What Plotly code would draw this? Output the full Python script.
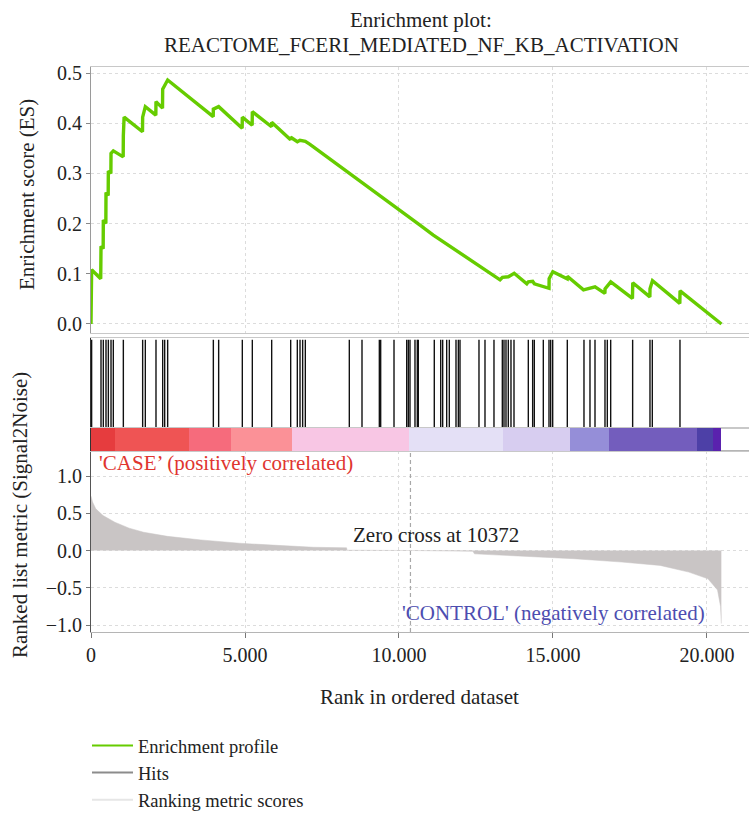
import plotly.graph_objects as go

# ---------------- data ----------------
title_lines = ["Enrichment plot:", "REACTOME_FCERI_MEDIATED_NF_KB_ACTIVATION"]

es_rank = [0, 20, 315, 325, 395, 400, 482, 487, 558, 563, 645, 650, 725, 1045, 1050, 1075,
           1672, 1677, 1764, 2105, 2110, 2322, 2327, 2489, 3968, 3972, 4145, 4908, 4913,
           5233, 5238, 5862, 5866, 6480, 6483, 6700, 6786, 6959, 7110, 8410, 9383, 10032,
           10682, 11114, 11981, 13280, 13360, 13550, 13740, 14150, 14200, 14340, 14395,
           14690, 14870, 14875, 14995, 15460, 15465, 15990, 16205, 16365, 16685, 16690,
           16875, 17580, 17590, 18145, 18150, 18230, 19118, 19125, 20470]
es_value = [0.0, 0.108, 0.090, 0.155, 0.150, 0.207, 0.200, 0.262, 0.256, 0.305, 0.300, 0.340,
            0.345, 0.333, 0.375, 0.412, 0.383, 0.412, 0.433, 0.416, 0.443, 0.430, 0.468, 0.486,
            0.413, 0.428, 0.433, 0.390, 0.412, 0.396, 0.423, 0.393, 0.402, 0.367, 0.372, 0.363,
            0.366, 0.364, 0.358, 0.300, 0.257, 0.228, 0.197, 0.177, 0.141, 0.088, 0.093, 0.094,
            0.101, 0.080, 0.084, 0.085, 0.080, 0.074, 0.071, 0.090, 0.104, 0.090, 0.095, 0.068,
            0.072, 0.074, 0.061, 0.070, 0.084, 0.051, 0.082, 0.054, 0.070, 0.086, 0.041, 0.066,
            0.0]

hit_ranks = [20, 325, 400, 487, 563, 650, 725, 1050, 1677, 1764, 2110, 2327, 2392, 2489,
             3972, 4145, 4913, 5238, 5866, 6483, 6699, 6786, 6872, 6959, 8387, 8799, 9362,
             9405, 9838, 10250, 10303, 10357, 10519, 10595, 10627, 11146, 11354, 11418, 11548,
             11634, 11851, 11927, 11981, 12597, 12792, 13084, 13355, 13409, 13474, 13549,
             13636, 13734, 14199, 14340, 14394, 14686, 14870, 14925, 14990, 15465, 16006,
             16201, 16364, 16688, 16764, 16873, 17586, 18149, 18225, 19123]

metric_rank = [0, 50, 155, 390, 775, 1240, 1710, 2485, 3570, 4815, 5745, 7220, 8300, 8310,
               10372, 12400, 12450, 14130, 15680, 17235, 18478, 19410, 20031, 20342, 20440,
               20466]
metric_value = [0.73, 0.65, 0.56, 0.47, 0.38, 0.30, 0.245, 0.19, 0.142, 0.098, 0.076, 0.044,
                0.036, 0.004, 0.0, -0.01, -0.045, -0.08, -0.11, -0.155, -0.2, -0.29, -0.38,
                -0.53, -0.75, -0.98]

band_start = [0, 780, 3180, 4535, 6515, 10330, 13380, 15550, 16820, 19665, 20185]
band_end = [780, 3180, 4535, 6515, 10330, 13380, 15550, 16820, 19665, 20185, 20460]
band_color = ["#e63c3e", "#ef5454", "#f66b7c", "#fb9197", "#f8c6e4", "#e4e0f6", "#d7cdf0",
              "#958ed8", "#735dbd", "#4d40a7", "#5a22ae"]

zero_cross = 10372
x_tick_vals = [0, 5000, 10000, 15000, 20000]
x_tick_text = ["0", "5.000", "10.000", "15.000", "20.000"]
es_ticks = [0.0, 0.1, 0.2, 0.3, 0.4, 0.5]
metric_ticks = [-1.0, -0.5, 0.0, 0.5, 1.0]

labels = {
    "case": "'CASE’ (positively correlated)",
    "control": "'CONTROL' (negatively correlated)",
    "zero": "Zero cross at %d" % zero_cross,
    "xtitle": "Rank in ordered dataset",
    "es_title": "Enrichment score (ES)",
    "metric_title": "Ranked list metric (Signal2Noise)",
}
legend_names = ["Enrichment profile", "Hits", "Ranking metric scores"]
legend_colors = ["#66cc00", "#8c8c8c", "#e6e6e6"]

# ---------------- figure ----------------
FONT = "Liberation Serif"
W, H = 749, 814
ML, MT, MB = 91, 67, 182
plot_h = H - MT - MB
X_MAX = 21364


def pyf(py):
    return (H - MB - py) / plot_h


def pxf(px):
    return (px - ML) / (W - ML)


fig = go.Figure()

# metric panel (bottom)
fig.add_trace(go.Scatter(x=metric_rank, y=metric_value, mode="lines", fill="tozeroy",
                         fillcolor="#c9c5c5", line=dict(color="#c9c5c5", width=0.5),
                         xaxis="x", yaxis="y", showlegend=False, hoverinfo="skip"))

# colour band
fig.add_trace(go.Bar(x=[e - s for s, e in zip(band_start, band_end)], base=band_start,
                     y=[0] * len(band_start), orientation="h", width=1,
                     marker=dict(color=band_color, line=dict(width=0)),
                     xaxis="x4", yaxis="y4", showlegend=False, hoverinfo="skip"))

# hits
hx, hy = [], []
for h in hit_ranks:
    hx += [h, h, None]
    hy += [0, 1, None]
fig.add_trace(go.Scatter(x=hx, y=hy, mode="lines", line=dict(color="#111111", width=1.4),
                         xaxis="x3", yaxis="y3", showlegend=False, hoverinfo="skip"))

# ES
fig.add_trace(go.Scatter(x=es_rank, y=es_value, mode="lines", name=legend_names[0],
                         line=dict(color="#66cc00", width=3.4), xaxis="x2", yaxis="y2",
                         showlegend=False))

# legend entries
for name, col in zip(legend_names, legend_colors):
    fig.add_trace(go.Scatter(x=[None], y=[None], mode="lines", name=name,
                             line=dict(color=col, width=2), xaxis="x2", yaxis="y2"))

grid = dict(showgrid=True, gridcolor="#dcdcdc", griddash="3px,3px", gridwidth=1)
tickfont = dict(family=FONT, size=20, color="#222")
TS = 21

d_es = [pyf(333), 1.0]
d_hits = [pyf(428), pyf(338)]
d_band = [pyf(451), pyf(428)]
d_met = [0, pyf(451)]

fig.update_layout(
    width=W, height=H, margin=dict(l=ML, r=0, t=MT, b=MB, autoexpand=False),
    paper_bgcolor="white", plot_bgcolor="white",
    font=dict(family=FONT, color="#222"),
    xaxis=dict(range=[0, X_MAX], domain=[0, 1], anchor="y", tickvals=x_tick_vals,
               ticktext=x_tick_text, tickfont=tickfont, ticks="outside", ticklen=5,
               tickcolor="#777", showline=True, linecolor="#b5b5b5", mirror=True,
               zeroline=False, **grid),
    yaxis=dict(range=[-1.094, 1.336], domain=d_met, anchor="x", tickvals=metric_ticks,
               ticktext=["−1.0", "−0.5", "0.0", "0.5", "1.0"], tickfont=tickfont,
               ticks="outside", ticklen=4, tickcolor="#777", showline=True,
               linecolor="#555", zeroline=False, **grid),
    xaxis2=dict(range=[0, X_MAX], domain=[0, 1], anchor="y2", tickvals=x_tick_vals,
                showticklabels=False, showline=True, linecolor="#c8c8c8", mirror=True,
                zeroline=False, **grid),
    yaxis2=dict(range=[-0.018, 0.512], domain=d_es, anchor="x2", tickvals=es_ticks,
                ticktext=["0.0", "0.1", "0.2", "0.3", "0.4", "0.5"], tickfont=tickfont,
                ticks="outside", ticklen=4, tickcolor="#888", showline=True,
                linecolor="#9a9a9a", zeroline=False, **grid),
    xaxis3=dict(range=[0, X_MAX], domain=[0, 1], anchor="y3", showticklabels=False,
                showgrid=False, showline=True, linecolor="#c8c8c8", mirror=True,
                zeroline=False),
    yaxis3=dict(range=[0, 1.02], domain=d_hits, anchor="x3", showticklabels=False,
                showgrid=False, showline=True, linecolor="#333", zeroline=False),
    xaxis4=dict(range=[0, X_MAX], domain=[0, 1], anchor="y4", showticklabels=False,
                showgrid=False, showline=True, linecolor="#c8c8c8", mirror=True,
                zeroline=False),
    yaxis4=dict(range=[-0.5, 0.5], domain=d_band, anchor="x4", showticklabels=False,
                showgrid=False, showline=True, linecolor="#333", zeroline=False),
    legend=dict(x=pxf(87), y=pyf(727), xanchor="left", yanchor="top",
                font=dict(family=FONT, size=18.5, color="#222"), bgcolor="rgba(0,0,0,0)",
                itemwidth=41, tracegroupgap=0),
    showlegend=True,
    bargap=0,
)

fig.add_shape(type="line", x0=zero_cross, x1=zero_cross, xref="x", y0=0, y1=1,
              yref="y domain", line=dict(color="#a8a8a8", width=1.2, dash="4px,3px"))

ann = [
    dict(text=title_lines[0], x=pxf(421), y=pyf(20)),
    dict(text=title_lines[1], x=pxf(421), y=pyf(45)),
    dict(text=labels["xtitle"], x=pxf(419), y=pyf(697)),
    dict(text=labels["zero"], x=pxf(436), y=pyf(535)),
]
for a in ann:
    fig.add_annotation(text=a["text"], x=a["x"], y=a["y"], xref="paper", yref="paper",
                       xanchor="center", yanchor="middle", showarrow=False,
                       font=dict(family=FONT, size=TS, color="#222"))

fig.add_annotation(text=labels["case"], x=pxf(97), y=pyf(463), xref="paper", yref="paper",
                   xanchor="left", yanchor="middle", showarrow=False,
                   font=dict(family=FONT, size=TS, color="#e0352f"))
fig.add_annotation(text=labels["control"], x=pxf(707), y=pyf(613), xref="paper",
                   yref="paper", xanchor="right", yanchor="middle", showarrow=False,
                   font=dict(family=FONT, size=TS, color="#4d4db0"))
fig.add_annotation(text=labels["es_title"], x=pxf(27), y=pyf(195), xref="paper",
                   yref="paper", xanchor="center", yanchor="middle", showarrow=False,
                   textangle=-90, font=dict(family=FONT, size=TS, color="#222"))
fig.add_annotation(text=labels["metric_title"], x=pxf(20), y=pyf(515), xref="paper",
                   yref="paper", xanchor="center", yanchor="middle", showarrow=False,
                   textangle=-90, font=dict(family=FONT, size=TS, color="#222"))

fig.write_html("out.html", config={"displayModeBar": False},
               post_script="document.body.style.margin='0px';"
                           "document.body.style.overflow='hidden';")
